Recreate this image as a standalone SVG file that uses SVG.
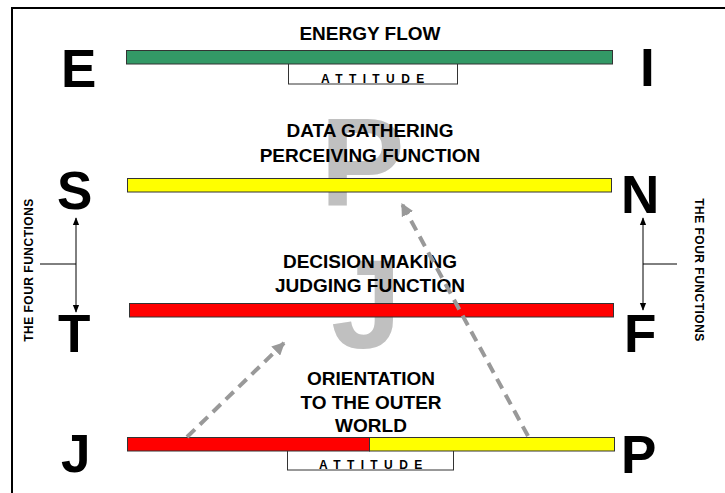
<svg xmlns="http://www.w3.org/2000/svg" width="725" height="493" viewBox="0 0 725 493">
<style>
text{font-family:"Liberation Sans",Arial,sans-serif;font-weight:bold;fill:#000}
.big{font-size:53px}
.lbl{font-size:19px;text-anchor:middle}
.att{font-size:12px;letter-spacing:6.4px}
.ghost{font-size:127px;fill:#c0c0c0}
.side{font-size:12px;letter-spacing:0.5px;text-anchor:middle}
.bar{stroke:#333;stroke-width:1}
.box{fill:#fff;stroke:#333;stroke-width:1}
.dash{stroke:#999;stroke-width:4;stroke-dasharray:11 7;fill:none}
.thin{stroke:#000;stroke-width:1;fill:none}
</style>
<defs>
<marker id="gh" viewBox="0 0 10 10" refX="9" refY="5" markerWidth="3.2" markerHeight="3.2" orient="auto" markerUnits="strokeWidth">
<path d="M0,0 L10,5 L0,10 z" fill="#999"/>
</marker>
<marker id="bh" viewBox="0 0 10 10" refX="9" refY="5" markerWidth="8" markerHeight="8" orient="auto-start-reverse" markerUnits="userSpaceOnUse">
<path d="M0,1 L10,5 L0,9 z" fill="#000"/>
</marker>
</defs>
<rect width="725" height="493" fill="#fff"/>
<path d="M12,493 V8 H725" stroke="#000" stroke-width="2" fill="none"/>

<g id="ghost-letters">
<text class="ghost" x="320" y="206">P</text>
<text class="ghost" x="331" y="348">J</text>
</g>

<g id="energy-flow">
<text class="lbl" x="370" y="40">ENERGY FLOW</text>
<rect class="box" x="288.5" y="60.5" width="169" height="23.5"/>
<rect class="bar" x="126.5" y="50.5" width="486" height="13.5" fill="#339966"/>
<text class="att" x="321" y="83">ATTITUDE</text>
<text class="big" x="61" y="87">E</text>
<text class="big" x="640" y="86">I</text>
</g>

<g id="perceiving">
<text class="lbl" x="370" y="137">DATA GATHERING</text>
<text class="lbl" x="370" y="162">PERCEIVING FUNCTION</text>
<rect class="bar" x="127.5" y="178.5" width="484" height="13.5" fill="#ffff00"/>
<text class="big" x="57" y="209">S</text>
<text class="big" x="621" y="213">N</text>
</g>

<g id="judging">
<text class="lbl" x="370" y="268">DECISION MAKING</text>
<text class="lbl" x="370" y="292">JUDGING FUNCTION</text>
<rect class="bar" x="129.5" y="303.5" width="484" height="13.5" fill="#ff0000"/>
<text class="big" x="58" y="352">T</text>
<text class="big" x="624" y="352">F</text>
</g>

<g id="orientation">
<text class="lbl" x="371" y="385">ORIENTATION</text>
<text class="lbl" x="371" y="409">TO THE OUTER</text>
<text class="lbl" x="371" y="432">WORLD</text>
<rect class="box" x="287.5" y="447.5" width="166" height="22.5"/>
<rect class="bar" x="127.5" y="437.5" width="242" height="13.5" fill="#ff0000"/>
<rect class="bar" x="369.5" y="437.5" width="245" height="13.5" fill="#ffff00"/>
<text class="att" x="319" y="469">ATTITUDE</text>
<text class="big" x="61" y="472">J</text>
<text class="big" x="621" y="473">P</text>
</g>

<g id="four-functions-left">
<text class="side" transform="translate(33,270) rotate(-90)">THE FOUR FUNCTIONS</text>
</g>
<g id="four-functions-right">
<text class="side" transform="translate(695,270) rotate(90)">THE FOUR FUNCTIONS</text>
</g>

<g id="connectors">
<line class="thin" x1="76" y1="218" x2="76" y2="312" marker-start="url(#bh)" marker-end="url(#bh)"/>
<line class="thin" x1="40" y1="264" x2="76" y2="264"/>
<line class="thin" x1="643" y1="218" x2="643" y2="310" marker-start="url(#bh)" marker-end="url(#bh)"/>
<line class="thin" x1="643" y1="264" x2="677" y2="264"/>
<line class="dash" x1="528" y1="436" x2="402" y2="204" marker-end="url(#gh)"/>
<line class="dash" x1="187" y1="437" x2="284" y2="343" marker-end="url(#gh)"/>
</g>
</svg>
